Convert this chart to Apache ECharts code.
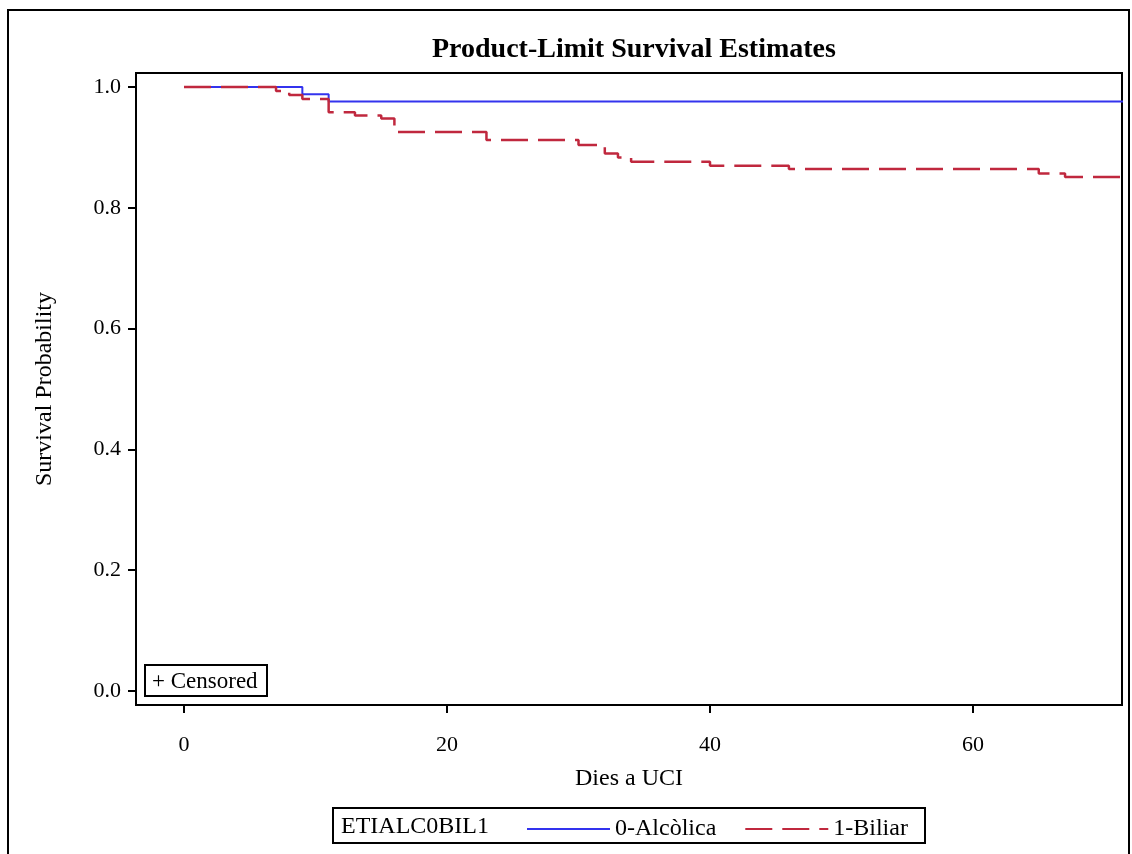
<!DOCTYPE html>
<html>
<head>
<meta charset="utf-8">
<title>Product-Limit Survival Estimates</title>
<script src="https://cdn.jsdelivr.net/npm/echarts@6/dist/echarts.min.js"></script>
<style>
  html, body { margin: 0; padding: 0; background: #fff; }
  #chart { width: 1132px; height: 854px; }
</style>
</head>
<body>
<div id="chart"></div>
<script>
// Kaplan-Meier steps (day, survival)
const alcoholTime = [0, 9, 11, 72];
const alcoholSurv = [1.0, 0.988, 0.976, 0.976];

const biliarTime = [0, 7, 8, 9, 11, 13, 15, 16, 23, 30, 32, 33, 34, 40, 46, 65, 67, 72];
const biliarSurv = [1.0, 0.9934, 0.9868, 0.9801, 0.9581, 0.9528, 0.9478, 0.9255, 0.9123,
  0.904, 0.8899, 0.8833, 0.8763, 0.8697, 0.8642, 0.8568, 0.851, 0.851];

const yTicks = [0, 0.2, 0.4, 0.6, 0.8, 1.0];
const xTicks = [0, 20, 40, 60];

const serif = '"Liberation Serif", "DejaVu Serif", serif';

const chart = echarts.init(document.getElementById('chart'));

const toPairs = (xs, ys) => xs.map((x, i) => [x, ys[i]]);

const option = {
  animation: false,
  backgroundColor: '#fff',
  textStyle: { fontFamily: serif, color: '#000' },
  title: {
    text: 'Product-Limit Survival Estimates',
    left: 427,
    top: 31,
    textStyle: { fontFamily: serif, fontSize: 28, fontWeight: 'bold', color: '#000' }
  },
  grid: {
    left: 136, top: 73, width: 986, height: 632,
    show: true, borderColor: '#000', borderWidth: 2,
    containLabel: false
  },
  legend: {
    left: 521,
    top: 812,
    itemWidth: 83,
    itemHeight: 14,
    itemGap: 28,
    itemStyle: { opacity: 0 },
    textStyle: { fontFamily: serif, fontSize: 24, color: '#000' },
    data: ['0-Alcòlica', '1-Biliar']
  },
  xAxis: {
    type: 'value',
    min: -3.65,
    max: 71.33,
    name: 'Dies a UCI',
    nameLocation: 'middle',
    nameGap: 62,
    nameTextStyle: { fontFamily: serif, fontSize: 24, color: '#000' },
    axisLine: { show: false, onZero: false },
    splitLine: { show: false },
    axisTick: { show: true, length: 8, customValues: xTicks, lineStyle: { color: '#000', width: 2 } },
    axisLabel: { customValues: xTicks, margin: 29, fontFamily: serif, fontSize: 22, color: '#000' }
  },
  yAxis: {
    type: 'value',
    min: -0.0232,
    max: 1.0232,
    name: 'Survival Probability',
    nameLocation: 'middle',
    nameGap: 79,
    nameTextStyle: { fontFamily: serif, fontSize: 24, color: '#000' },
    axisLine: { show: false, onZero: false },
    splitLine: { show: false },
    axisTick: { show: true, length: 8, customValues: yTicks, lineStyle: { color: '#000', width: 2 } },
    axisLabel: {
      customValues: yTicks, margin: 15, fontFamily: serif, fontSize: 22, color: '#000',
      formatter: (v) => v.toFixed(1)
    }
  },
  graphic: [
    // outer frame
    { type: 'rect', shape: { x: 8, y: 10, width: 1121, height: 870 },
      style: { fill: 'none', stroke: '#000', lineWidth: 2 }, silent: true },
    // censored box
    { type: 'rect', shape: { x: 145, y: 665, width: 122, height: 31 },
      style: { fill: '#fff', stroke: '#000', lineWidth: 2 }, z: 10 },
    { type: 'text', x: 152, y: 682, z: 11,
      style: { text: '+ Censored', font: '23px ' + serif, fill: '#000', verticalAlign: 'middle' } },
    // legend box
    { type: 'rect', shape: { x: 333, y: 808, width: 592, height: 35 },
      style: { fill: 'none', stroke: '#000', lineWidth: 2 } },
    { type: 'text', x: 341, y: 827,
      style: { text: 'ETIALC0BIL1', font: '24px ' + serif, fill: '#000', verticalAlign: 'middle' } }
  ],
  series: [
    {
      name: '0-Alcòlica',
      type: 'line',
      step: 'end',
      showSymbol: false,
      symbol: 'none',
      clip: true,
      data: toPairs(alcoholTime, alcoholSurv),
      lineStyle: { color: '#3333EE', width: 2, type: 'solid' },
      itemStyle: { color: '#3333EE' },
      z: 2
    },
    {
      name: '1-Biliar',
      type: 'line',
      step: 'end',
      showSymbol: false,
      symbol: 'none',
      clip: true,
      data: toPairs(biliarTime, biliarSurv),
      lineStyle: { color: '#C0283E', width: 2.5, type: [27, 10] },
      itemStyle: { color: '#C0283E' },
      z: 3
    }
  ]
};

chart.setOption(option);
</script>
</body>
</html>
